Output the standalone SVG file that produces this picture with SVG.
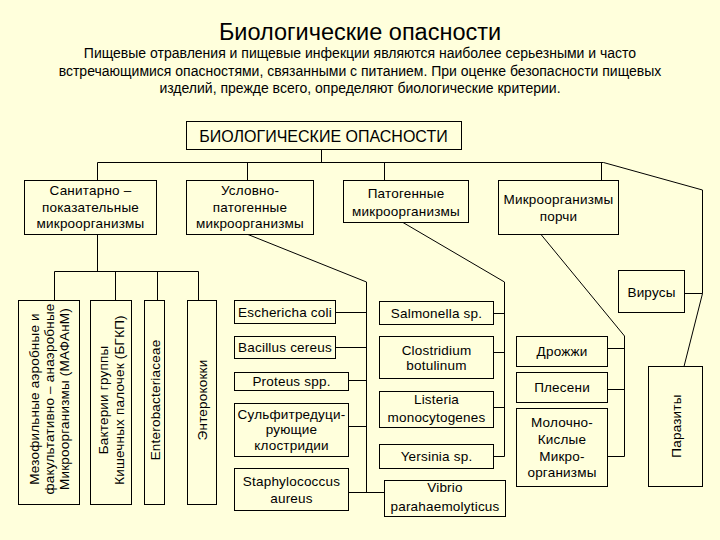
<svg xmlns="http://www.w3.org/2000/svg" width="720" height="540" viewBox="0 0 720 540">
<style>
text{font-family:"Liberation Sans",Arial,sans-serif;fill:#000}
.t{font-size:13.5px;text-anchor:middle;letter-spacing:0.2px}
.v{font-size:13.5px;text-anchor:middle;letter-spacing:0.2px}
.box rect{fill:none;stroke:#000;stroke-width:1}
#connectors path{fill:none;stroke:#000;stroke-width:1}
</style>
<rect x="0" y="0" width="720" height="540" fill="#FFFFDC"/>
<g id="title">
<text x="360" y="40" style="font-size:23.5px;text-anchor:middle">Биологические опасности</text>
<text x="360" y="58" style="font-size:14px;text-anchor:middle">Пищевые отравления и пищевые инфекции являются наиболее серьезными и часто</text>
<text x="360" y="76" style="font-size:14px;text-anchor:middle">встречающимися опасностями, связанными с питанием. При оценке безопасности пищевых</text>
<text x="360" y="93" style="font-size:14px;text-anchor:middle">изделий, прежде всего, определяют биологические критерии.</text>
</g>
<g id="connectors">
<path d="M321.5 150V162.5M97.5 162.5H603.5M97.5 162.5V180.5M247.5 162.5V180.5M384.5 162.5V180.5M601.5 162.5V180.5"/>
<path d="M603.5 162.5L702.5 190V293.5M684.5 293.5H702.5M702.5 293.5L684 366.5"/>
<path d="M97.5 234.5V271.5M54.5 271.5H198.5M54.5 271.5V300.5M115.5 271.5V300.5M157.5 271.5V300.5M198.5 271.5V300.5"/>
<path d="M248 234.5L366.5 282V492.5M335.5 312.5H366.5M335.5 347.5H366.5M348.5 380.5H366.5M348.5 426.5H366.5M348.5 492.5H384.5"/>
<path d="M403 222.5L504.5 282V456.5M493.5 313.5H504.5M493.5 352.5H504.5M493.5 407.5H504.5M493.5 456.5H504.5"/>
<path d="M541 234.5L624.5 336V456.5M607.5 348.5H624.5M607.5 389.5H624.5M607.5 456.5H624.5"/>
</g>
<g id="n_root" class="box"><rect x="186.5" y="121.5" width="275" height="28"/><text x="323.5" y="141.5" style="font-size:16px;text-anchor:middle">БИОЛОГИЧЕСКИЕ ОПАСНОСТИ</text></g>
<g id="n_sanit" class="box"><rect x="24.5" y="180.5" width="132" height="54"/><text class="t" x="90.5" y="195">Санитарно –</text><text class="t" x="90.5" y="212">показательные</text><text class="t" x="90.5" y="228">микроорганизмы</text></g>
<g id="n_uslov" class="box"><rect x="186.5" y="180.5" width="127" height="54"/><text class="t" x="250" y="195">Условно-</text><text class="t" x="250" y="212">патогенные</text><text class="t" x="250" y="228">микроорганизмы</text></g>
<g id="n_patog" class="box"><rect x="343.5" y="180.5" width="125" height="42"/><text class="t" x="406" y="198">Патогенные</text><text class="t" x="406" y="216">микроорганизмы</text></g>
<g id="n_porchi" class="box"><rect x="498.5" y="180.5" width="120" height="54"/><text class="t" x="558.5" y="204">Микроорганизмы</text><text class="t" x="558.5" y="221">порчи</text></g>
<g id="n_mafanm" class="box"><rect x="18.5" y="300.5" width="61" height="204"/>
<text class="v" transform="translate(34 399) rotate(-90)" dy="0.35em">Мезофильные аэробные и</text>
<text class="v" transform="translate(49 399) rotate(-90)" dy="0.35em">факультативно – анаэробные</text>
<text class="v" transform="translate(64 399) rotate(-90)" dy="0.35em">Микроорганизмы (МАФАнМ)</text></g>
<g id="n_bgkp" class="box"><rect x="90.5" y="300.5" width="41" height="204"/>
<text class="v" transform="translate(103 400) rotate(-90)" dy="0.35em">Бактерии группы</text>
<text class="v" transform="translate(119 400) rotate(-90)" dy="0.35em">Кишечных палочек (БГКП)</text></g>
<g id="n_entero" class="box"><rect x="144.5" y="300.5" width="20" height="204"/>
<text class="v" transform="translate(155 400) rotate(-90)" dy="0.35em">Enterobacteriaceae</text></g>
<g id="n_enterokok" class="box"><rect x="187.5" y="300.5" width="29" height="204"/>
<text class="v" transform="translate(202 400) rotate(-90)" dy="0.35em">Энтерококки</text></g>
<g id="n_ecoli" class="box"><rect x="234.5" y="300.5" width="101" height="23"/><text class="t" x="285" y="317">Eschericha coli</text></g>
<g id="n_bacillus" class="box"><rect x="234.5" y="336.5" width="101" height="22"/><text class="t" x="285" y="352">Bacillus cereus</text></g>
<g id="n_proteus" class="box"><rect x="234.5" y="372.5" width="114" height="18"/><text class="t" x="291.5" y="386">Proteus spp.</text></g>
<g id="n_sulfit" class="box"><rect x="234.5" y="403.5" width="114" height="53"/><text class="t" x="291.5" y="418.5">Сульфитредуци-</text><text class="t" x="291.5" y="434">рующие</text><text class="t" x="291.5" y="449.5">клостридии</text></g>
<g id="n_staph" class="box"><rect x="234.5" y="468.5" width="114" height="42"/><text class="t" x="291.5" y="486">Staphylococcus</text><text class="t" x="291.5" y="503">aureus</text></g>
<g id="n_salm" class="box"><rect x="379.5" y="301.5" width="114" height="23"/><text class="t" x="436.5" y="318">Salmonella sp.</text></g>
<g id="n_clostr" class="box"><rect x="379.5" y="336.5" width="114" height="42"/><text class="t" x="436.5" y="355">Clostridium</text><text class="t" x="436.5" y="370">botulinum</text></g>
<g id="n_listeria" class="box"><rect x="379.5" y="391.5" width="114" height="36"/><text class="t" x="436.5" y="404">Listeria</text><text class="t" x="436.5" y="422">monocytogenes</text></g>
<g id="n_yersinia" class="box"><rect x="379.5" y="444.5" width="114" height="24"/><text class="t" x="436.5" y="461">Yersinia sp.</text></g>
<g id="n_vibrio" class="box"><rect x="384.5" y="480.5" width="121" height="36"/><text class="t" x="445" y="492">Vibrio</text><text class="t" x="445" y="511">parahaemolyticus</text></g>
<g id="n_drozh" class="box"><rect x="516.5" y="336.5" width="91" height="30"/><text class="t" x="562" y="356">Дрожжи</text></g>
<g id="n_plesen" class="box"><rect x="516.5" y="372.5" width="91" height="30"/><text class="t" x="562" y="392">Плесени</text></g>
<g id="n_molok" class="box"><rect x="516.5" y="408.5" width="91" height="78"/><text class="t" x="562" y="427">Молочно-</text><text class="t" x="562" y="444">Кислые</text><text class="t" x="562" y="461">Микро-</text><text class="t" x="562" y="477">организмы</text></g>
<g id="n_virus" class="box"><rect x="618.5" y="270.5" width="66" height="42"/><text class="t" x="651.5" y="297">Вирусы</text></g>
<g id="n_parazit" class="box"><rect x="648.5" y="366.5" width="54" height="120"/><text class="v" transform="translate(676 426) rotate(-90)" dy="0.35em">Паразиты</text></g>
</svg>
